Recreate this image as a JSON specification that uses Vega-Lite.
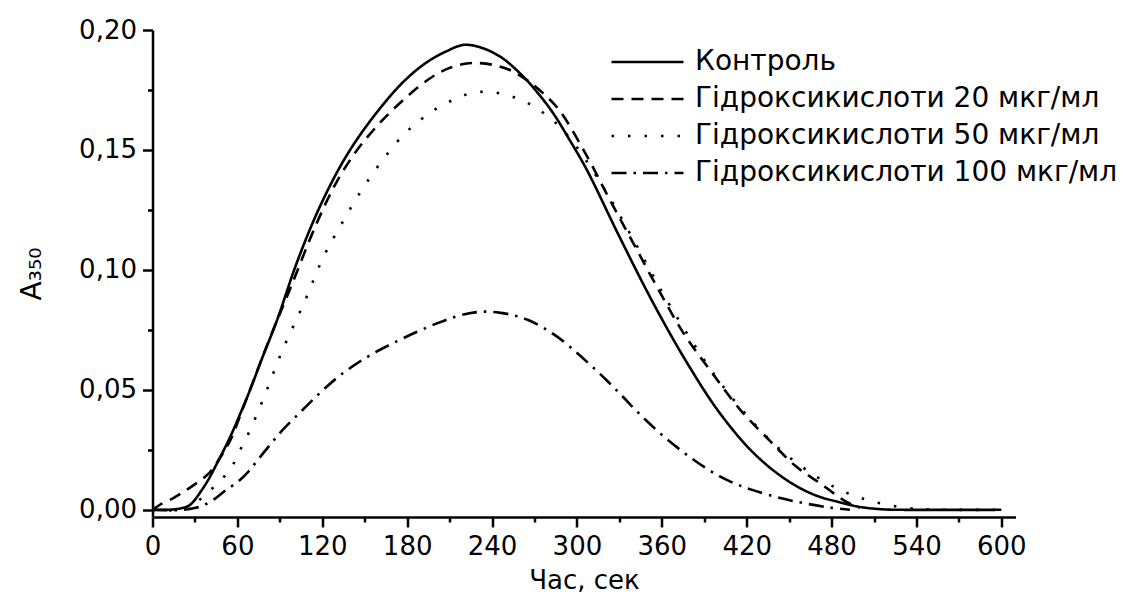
{
  "$schema": "https://vega.github.io/schema/vega-lite/v6.json",
  "width": 863,
  "height": 487,
  "autosize": {"type": "none"},
  "padding": {"left": 152.5, "top": 30, "right": 110.5, "bottom": 84},
  "background": "white",
  "config": {
    "view": {"stroke": null},
    "font": "DejaVu Sans",
    "axis": {
      "grid": false,
      "domainColor": "black",
      "domainWidth": 2.5,
      "tickColor": "black",
      "tickWidth": 2.5,
      "labelColor": "black",
      "labelFont": "DejaVu Sans",
      "labelFontSize": 26,
      "labelFlush": false,
      "labelOverlap": false,
      "titleColor": "black",
      "titleFont": "DejaVu Sans",
      "titleFontSize": 26,
      "titleFontWeight": "normal"
    }
  },
  "data": {
    "values": [
      {"t": 0, "A": 0, "series": "Контроль"},
      {"t": 10, "A": 0, "series": "Контроль"},
      {"t": 17, "A": 0.0003, "series": "Контроль"},
      {"t": 25, "A": 0.0015, "series": "Контроль"},
      {"t": 29, "A": 0.0035, "series": "Контроль"},
      {"t": 34, "A": 0.0075, "series": "Контроль"},
      {"t": 39.4, "A": 0.0125, "series": "Контроль"},
      {"t": 47, "A": 0.021, "series": "Контроль"},
      {"t": 55, "A": 0.0305, "series": "Контроль"},
      {"t": 62, "A": 0.04, "series": "Контроль"},
      {"t": 69, "A": 0.05, "series": "Контроль"},
      {"t": 78, "A": 0.064, "series": "Контроль"},
      {"t": 88, "A": 0.079, "series": "Контроль"},
      {"t": 102, "A": 0.103, "series": "Контроль"},
      {"t": 118, "A": 0.126, "series": "Контроль"},
      {"t": 135, "A": 0.1455, "series": "Контроль"},
      {"t": 151, "A": 0.1598, "series": "Контроль"},
      {"t": 170, "A": 0.1738, "series": "Контроль"},
      {"t": 182, "A": 0.181, "series": "Контроль"},
      {"t": 194, "A": 0.1866, "series": "Контроль"},
      {"t": 208, "A": 0.1912, "series": "Контроль"},
      {"t": 220, "A": 0.1938, "series": "Контроль"},
      {"t": 232, "A": 0.1927, "series": "Контроль"},
      {"t": 246, "A": 0.1888, "series": "Контроль"},
      {"t": 260, "A": 0.1818, "series": "Контроль"},
      {"t": 272, "A": 0.174, "series": "Контроль"},
      {"t": 283, "A": 0.1655, "series": "Контроль"},
      {"t": 295, "A": 0.154, "series": "Контроль"},
      {"t": 307, "A": 0.1417, "series": "Контроль"},
      {"t": 330, "A": 0.1139, "series": "Контроль"},
      {"t": 354, "A": 0.0861, "series": "Контроль"},
      {"t": 378, "A": 0.0611, "series": "Контроль"},
      {"t": 401, "A": 0.0403, "series": "Контроль"},
      {"t": 425, "A": 0.0236, "series": "Контроль"},
      {"t": 448, "A": 0.0125, "series": "Контроль"},
      {"t": 468, "A": 0.0062, "series": "Контроль"},
      {"t": 488, "A": 0.0028, "series": "Контроль"},
      {"t": 500, "A": 0.0012, "series": "Контроль"},
      {"t": 516, "A": 0.0002, "series": "Контроль"},
      {"t": 530, "A": 0, "series": "Контроль"},
      {"t": 600, "A": 0, "series": "Контроль"},

      {"t": 0, "A": 0, "series": "Гідроксикислоти 20 мкг/мл"},
      {"t": 5, "A": 0.002, "series": "Гідроксикислоти 20 мкг/мл"},
      {"t": 15, "A": 0.005, "series": "Гідроксикислоти 20 мкг/мл"},
      {"t": 24, "A": 0.0083, "series": "Гідроксикислоти 20 мкг/мл"},
      {"t": 32, "A": 0.0115, "series": "Гідроксикислоти 20 мкг/мл"},
      {"t": 40, "A": 0.0153, "series": "Гідроксикислоти 20 мкг/мл"},
      {"t": 47, "A": 0.021, "series": "Гідроксикислоти 20 мкг/мл"},
      {"t": 55, "A": 0.029, "series": "Гідроксикислоти 20 мкг/мл"},
      {"t": 65, "A": 0.044, "series": "Гідроксикислоти 20 мкг/мл"},
      {"t": 76, "A": 0.061, "series": "Гідроксикислоти 20 мкг/мл"},
      {"t": 86, "A": 0.076, "series": "Гідроксикислоти 20 мкг/мл"},
      {"t": 97, "A": 0.0917, "series": "Гідроксикислоти 20 мкг/мл"},
      {"t": 116, "A": 0.1194, "series": "Гідроксикислоти 20 мкг/мл"},
      {"t": 130, "A": 0.1365, "series": "Гідроксикислоти 20 мкг/мл"},
      {"t": 144, "A": 0.1495, "series": "Гідроксикислоти 20 мкг/мл"},
      {"t": 156, "A": 0.1582, "series": "Гідроксикислоти 20 мкг/мл"},
      {"t": 168, "A": 0.1657, "series": "Гідроксикислоти 20 мкг/мл"},
      {"t": 187, "A": 0.1758, "series": "Гідроксикислоти 20 мкг/мл"},
      {"t": 200, "A": 0.1813, "series": "Гідроксикислоти 20 мкг/мл"},
      {"t": 210, "A": 0.1842, "series": "Гідроксикислоти 20 мкг/мл"},
      {"t": 222, "A": 0.186, "series": "Гідроксикислоти 20 мкг/мл"},
      {"t": 231, "A": 0.1862, "series": "Гідроксикислоти 20 мкг/мл"},
      {"t": 242, "A": 0.1853, "series": "Гідроксикислоти 20 мкг/мл"},
      {"t": 253, "A": 0.1832, "series": "Гідроксикислоти 20 мкг/мл"},
      {"t": 265, "A": 0.179, "series": "Гідроксикислоти 20 мкг/мл"},
      {"t": 276, "A": 0.1737, "series": "Гідроксикислоти 20 мкг/мл"},
      {"t": 288, "A": 0.1662, "series": "Гідроксикислоти 20 мкг/мл"},
      {"t": 307, "A": 0.1475, "series": "Гідроксикислоти 20 мкг/мл"},
      {"t": 323, "A": 0.1295, "series": "Гідроксикислоти 20 мкг/мл"},
      {"t": 340, "A": 0.111, "series": "Гідроксикислоти 20 мкг/мл"},
      {"t": 359, "A": 0.0903, "series": "Гідроксикислоти 20 мкг/мл"},
      {"t": 376, "A": 0.073, "series": "Гідроксикислоти 20 мкг/мл"},
      {"t": 394, "A": 0.0583, "series": "Гідроксикислоти 20 мкг/мл"},
      {"t": 415, "A": 0.042, "series": "Гідроксикислоти 20 мкг/мл"},
      {"t": 436, "A": 0.029, "series": "Гідроксикислоти 20 мкг/мл"},
      {"t": 455, "A": 0.018, "series": "Гідроксикислоти 20 мкг/мл"},
      {"t": 472, "A": 0.011, "series": "Гідроксикислоти 20 мкг/мл"},
      {"t": 490, "A": 0.0035, "series": "Гідроксикислоти 20 мкг/мл"},
      {"t": 500, "A": 0.0008, "series": "Гідроксикислоти 20 мкг/мл"},

      {"t": 0, "A": 0, "series": "Гідроксикислоти 50 мкг/мл"},
      {"t": 20, "A": 0, "series": "Гідроксикислоти 50 мкг/мл"},
      {"t": 28, "A": 0.002, "series": "Гідроксикислоти 50 мкг/мл"},
      {"t": 36, "A": 0.0055, "series": "Гідроксикислоти 50 мкг/мл"},
      {"t": 45, "A": 0.0105, "series": "Гідроксикислоти 50 мкг/мл"},
      {"t": 55, "A": 0.017, "series": "Гідроксикислоти 50 мкг/мл"},
      {"t": 62, "A": 0.025, "series": "Гідроксикислоти 50 мкг/мл"},
      {"t": 69, "A": 0.0333, "series": "Гідроксикислоти 50 мкг/мл"},
      {"t": 79.5, "A": 0.048, "series": "Гідроксикислоти 50 мкг/мл"},
      {"t": 92, "A": 0.0667, "series": "Гідроксикислоти 50 мкг/мл"},
      {"t": 107, "A": 0.0861, "series": "Гідроксикислоти 50 мкг/мл"},
      {"t": 121, "A": 0.1056, "series": "Гідроксикислоти 50 мкг/мл"},
      {"t": 132.5, "A": 0.118, "series": "Гідроксикислоти 50 мкг/мл"},
      {"t": 145, "A": 0.1306, "series": "Гідроксикислоти 50 мкг/мл"},
      {"t": 160, "A": 0.1437, "series": "Гідроксикислоти 50 мкг/мл"},
      {"t": 177, "A": 0.156, "series": "Гідроксикислоти 50 мкг/мл"},
      {"t": 190, "A": 0.1628, "series": "Гідроксикислоти 50 мкг/мл"},
      {"t": 201, "A": 0.1674, "series": "Гідроксикислоти 50 мкг/мл"},
      {"t": 213, "A": 0.171, "series": "Гідроксикислоти 50 мкг/мл"},
      {"t": 224, "A": 0.1735, "series": "Гідроксикислоти 50 мкг/мл"},
      {"t": 236, "A": 0.1743, "series": "Гідроксикислоти 50 мкг/мл"},
      {"t": 248, "A": 0.1733, "series": "Гідроксикислоти 50 мкг/мл"},
      {"t": 260, "A": 0.171, "series": "Гідроксикислоти 50 мкг/мл"},
      {"t": 272, "A": 0.1672, "series": "Гідроксикислоти 50 мкг/мл"},
      {"t": 283, "A": 0.1623, "series": "Гідроксикислоти 50 мкг/мл"},
      {"t": 295, "A": 0.155, "series": "Гідроксикислоти 50 мкг/мл"},
      {"t": 316, "A": 0.137, "series": "Гідроксикислоти 50 мкг/мл"},
      {"t": 340, "A": 0.1125, "series": "Гідроксикислоти 50 мкг/мл"},
      {"t": 360, "A": 0.091, "series": "Гідроксикислоти 50 мкг/мл"},
      {"t": 380, "A": 0.0715, "series": "Гідроксикислоти 50 мкг/мл"},
      {"t": 400, "A": 0.054, "series": "Гідроксикислоти 50 мкг/мл"},
      {"t": 420, "A": 0.0395, "series": "Гідроксикислоти 50 мкг/мл"},
      {"t": 440, "A": 0.027, "series": "Гідроксикислоти 50 мкг/мл"},
      {"t": 462, "A": 0.0167, "series": "Гідроксикислоти 50 мкг/мл"},
      {"t": 486, "A": 0.0083, "series": "Гідроксикислоти 50 мкг/мл"},
      {"t": 509, "A": 0.0035, "series": "Гідроксикислоти 50 мкг/мл"},
      {"t": 533, "A": 0.0008, "series": "Гідроксикислоти 50 мкг/мл"},
      {"t": 555, "A": 0.0001, "series": "Гідроксикислоти 50 мкг/мл"},
      {"t": 600, "A": 0, "series": "Гідроксикислоти 50 мкг/мл"},

      {"t": 0, "A": 0, "series": "Гідроксикислоти 100 мкг/мл"},
      {"t": 22, "A": 0, "series": "Гідроксикислоти 100 мкг/мл"},
      {"t": 34, "A": 0.0014, "series": "Гідроксикислоти 100 мкг/мл"},
      {"t": 45, "A": 0.005, "series": "Гідроксикислоти 100 мкг/мл"},
      {"t": 52, "A": 0.0083, "series": "Гідроксикислоти 100 мкг/мл"},
      {"t": 60, "A": 0.0115, "series": "Гідроксикислоти 100 мкг/мл"},
      {"t": 67, "A": 0.0154, "series": "Гідроксикислоти 100 мкг/мл"},
      {"t": 74, "A": 0.0205, "series": "Гідроксикислоти 100 мкг/мл"},
      {"t": 83, "A": 0.027, "series": "Гідроксикислоти 100 мкг/мл"},
      {"t": 92, "A": 0.0333, "series": "Гідроксикислоти 100 мкг/мл"},
      {"t": 105, "A": 0.041, "series": "Гідроксикислоти 100 мкг/мл"},
      {"t": 118, "A": 0.0485, "series": "Гідроксикислоти 100 мкг/мл"},
      {"t": 131, "A": 0.0553, "series": "Гідроксикислоти 100 мкг/мл"},
      {"t": 144, "A": 0.0608, "series": "Гідроксикислоти 100 мкг/мл"},
      {"t": 158, "A": 0.0658, "series": "Гідроксикислоти 100 мкг/мл"},
      {"t": 173, "A": 0.0703, "series": "Гідроксикислоти 100 мкг/мл"},
      {"t": 187, "A": 0.0742, "series": "Гідроксикислоти 100 мкг/мл"},
      {"t": 201, "A": 0.0777, "series": "Гідроксикислоти 100 мкг/мл"},
      {"t": 213, "A": 0.0803, "series": "Гідроксикислоти 100 мкг/мл"},
      {"t": 224, "A": 0.0819, "series": "Гідроксикислоти 100 мкг/мл"},
      {"t": 234, "A": 0.0826, "series": "Гідроксикислоти 100 мкг/мл"},
      {"t": 246, "A": 0.0821, "series": "Гідроксикислоти 100 мкг/мл"},
      {"t": 257, "A": 0.0808, "series": "Гідроксикислоти 100 мкг/мл"},
      {"t": 266, "A": 0.079, "series": "Гідроксикислоти 100 мкг/мл"},
      {"t": 276, "A": 0.076, "series": "Гідроксикислоти 100 мкг/мл"},
      {"t": 286, "A": 0.0722, "series": "Гідроксикислоти 100 мкг/мл"},
      {"t": 295, "A": 0.068, "series": "Гідроксикислоти 100 мкг/мл"},
      {"t": 308, "A": 0.0612, "series": "Гідроксикислоти 100 мкг/мл"},
      {"t": 321, "A": 0.054, "series": "Гідроксикислоти 100 мкг/мл"},
      {"t": 333, "A": 0.0468, "series": "Гідроксикислоти 100 мкг/мл"},
      {"t": 345, "A": 0.0395, "series": "Гідроксикислоти 100 мкг/мл"},
      {"t": 359, "A": 0.0318, "series": "Гідроксикислоти 100 мкг/мл"},
      {"t": 373, "A": 0.025, "series": "Гідроксикислоти 100 мкг/мл"},
      {"t": 387, "A": 0.019, "series": "Гідроксикислоти 100 мкг/мл"},
      {"t": 401, "A": 0.0139, "series": "Гідроксикислоти 100 мкг/мл"},
      {"t": 413, "A": 0.0106, "series": "Гідроксикислоти 100 мкг/мл"},
      {"t": 425, "A": 0.0081, "series": "Гідроксикислоти 100 мкг/мл"},
      {"t": 443, "A": 0.005, "series": "Гідроксикислоти 100 мкг/мл"},
      {"t": 460, "A": 0.0028, "series": "Гідроксикислоти 100 мкг/мл"},
      {"t": 478, "A": 0.001, "series": "Гідроксикислоти 100 мкг/мл"},
      {"t": 493, "A": 0, "series": "Гідроксикислоти 100 мкг/мл"}
    ]
  },
  "mark": {"type": "line", "interpolate": "catmull-rom", "color": "black", "strokeWidth": 2.6, "clip": true},
  "encoding": {
    "x": {
      "field": "t",
      "type": "quantitative",
      "scale": {"domain": [0, 610], "nice": false, "zero": false},
      "axis": {
        "title": "Час, сек",
        "values": [0, 30, 60, 90, 120, 150, 180, 210, 240, 270, 300, 330, 360, 390, 420, 450, 480, 510, 540, 570, 600],
        "labelExpr": "datum.value % 60 === 0 ? datum.label : ''",
        "tickSize": {"condition": {"test": "datum.value % 60 === 0", "value": 10}, "value": 5},
        "labelPadding": 6,
        "titlePadding": 8
      }
    },
    "y": {
      "field": "A",
      "type": "quantitative",
      "scale": {"domain": [-0.003, 0.2], "nice": false, "zero": false},
      "axis": {
        "title": "A₃₅₀",
        "titleFontSize": 28,
        "values": [0, 0.025, 0.05, 0.075, 0.1, 0.125, 0.15, 0.175, 0.2],
        "labelExpr": "round(datum.value * 1000) % 50 === 0 ? replace(format(datum.value, '.2f'), '.', ',') : ''",
        "tickSize": {"condition": {"test": "round(datum.value * 1000) % 50 === 0", "value": 10}, "value": 5},
        "labelPadding": 6,
        "titlePadding": 32
      }
    },
    "strokeDash": {
      "field": "series",
      "type": "nominal",
      "scale": {
        "domain": ["Контроль", "Гідроксикислоти 20 мкг/мл", "Гідроксикислоти 50 мкг/мл", "Гідроксикислоти 100 мкг/мл"],
        "range": [[1, 0], [12, 8], [2.5, 14], [15, 7, 2.5, 7]]
      },
      "legend": {
        "title": null,
        "orient": "none",
        "legendX": 457.5,
        "legendY": 17,
        "padding": 0,
        "symbolType": "stroke",
        "symbolSize": 5184,
        "symbolStrokeWidth": 2.6,
        "symbolStrokeColor": "black",
        "labelFont": "DejaVu Sans",
        "labelFontSize": 28,
        "labelColor": "black",
        "labelOffset": 10,
        "labelLimit": 0,
        "clipHeight": 30,
        "rowPadding": 7
      }
    }
  }
}
